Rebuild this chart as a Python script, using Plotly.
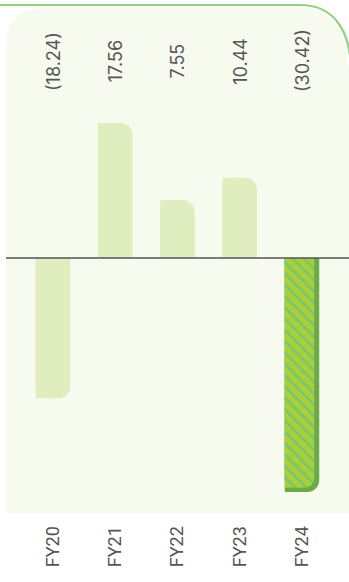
import plotly.graph_objects as go

# Fiscal-year results
categories = ["FY20", "FY21", "FY22", "FY23", "FY24"]
values = [-18.24, 17.56, 7.55, 10.44, -30.42]
highlight = "FY24"

# Colours
PANEL = "#f7faef"
BAR = "#dfedbf"
HATCH_BG = "#a9cf3b"
HATCH_FG = "#3dbda6"
SHADOW = "#6aab45"
BORDER = "#93d37f"
TEXT = "#555555"

W, H = 349, 582
BOTTOM = 70                      # room for the rotated category labels
PLOT_H = H - BOTTOM
Y_RANGE = [-33.03, 33.55]
X_RANGE = [-0.851, 4.755]
BAR_W = 0.554
HATCH_W = 0.474


def label(v):
    return f"({abs(v):.2f})" if v < 0 else f"{v:.2f}"


def px(x, y):
    """Pixel position -> paper coordinates of the plot area."""
    return f"{x / W:.5f},{(PLOT_H - y) / PLOT_H:.5f}"


units_per_px = (Y_RANGE[1] - Y_RANGE[0]) / PLOT_H
inset = 4.5 * units_per_px

plain = [None if c == highlight else v for c, v in zip(categories, values)]
hi = [v if c == highlight else None for c, v in zip(categories, values)]
hi_inner = [None if v is None else (v + inset if v < 0 else v - inset) for v in hi]

fig = go.Figure()


def rounded_bar(vals, width, radius, **marker):
    # full-width bar with rounded ends, then a half-width square bar
    # over the left side so only the right corner stays rounded
    fig.add_trace(go.Bar(x=categories, y=vals, width=width, offset=-BAR_W / 2,
                         marker=dict(cornerradius=radius, line_width=0, **marker),
                         hoverinfo="skip"))
    fig.add_trace(go.Bar(x=categories, y=vals, width=width / 2, offset=-BAR_W / 2,
                         marker=dict(line_width=0, **marker),
                         hoverinfo="skip"))


rounded_bar(plain, BAR_W, 12, color=BAR)
rounded_bar(hi, BAR_W, 12, color=SHADOW)
rounded_bar(hi_inner, HATCH_W, 9, color=HATCH_BG,
            pattern=dict(shape="\\", fgcolor=HATCH_FG, bgcolor=HATCH_BG,
                         size=8, solidity=0.3))

# value labels along the top
for c, v in zip(categories, values):
    fig.add_annotation(x=c, y=(PLOT_H - 61) / PLOT_H, yref="paper",
                       text=label(v), textangle=-90, showarrow=False,
                       xanchor="center", yanchor="middle",
                       font=dict(family="Inter", size=18, color=TEXT))

panel_path = (f"M {px(6, 513)} L {px(6, 46)} Q {px(6, 8)} {px(44, 8)} "
              f"L {px(300, 8)} C {px(328, 8)} {px(346, 27)} {px(348, 66)} "
              f"L {px(349, 66)} L {px(349, 513)} Z")
border_path = (f"M {px(-2, 5)} L {px(300, 5)} C {px(331, 5)} {px(349, 26)} "
               f"{px(351, 66)} L {px(352, 600)}")

fig.update_layout(
    width=W, height=H,
    margin=dict(l=0, r=0, t=0, b=BOTTOM),
    paper_bgcolor="white", plot_bgcolor="rgba(0,0,0,0)",
    barmode="overlay", showlegend=False,
    xaxis=dict(range=X_RANGE, type="category", showgrid=False, zeroline=False,
               showline=False, tickangle=-90, ticks="outside", ticklen=6,
               tickcolor="rgba(0,0,0,0)",
               tickfont=dict(family="Roboto", size=18, color=TEXT),
               fixedrange=True),
    yaxis=dict(range=Y_RANGE, visible=False, fixedrange=True),
    shapes=[
        dict(type="path", path=panel_path, xref="paper", yref="paper",
             fillcolor=PANEL, line_width=0, layer="below"),
        dict(type="path", path=border_path, xref="paper", yref="paper",
             line=dict(color=BORDER, width=2.2), layer="below"),
        dict(type="line", xref="paper", yref="y", x0=6 / W, x1=1, y0=0, y1=0,
             line=dict(color="#555555", width=1.5), layer="above"),
    ],
)

fig.write_html("out.html", config={"displayModeBar": False})
